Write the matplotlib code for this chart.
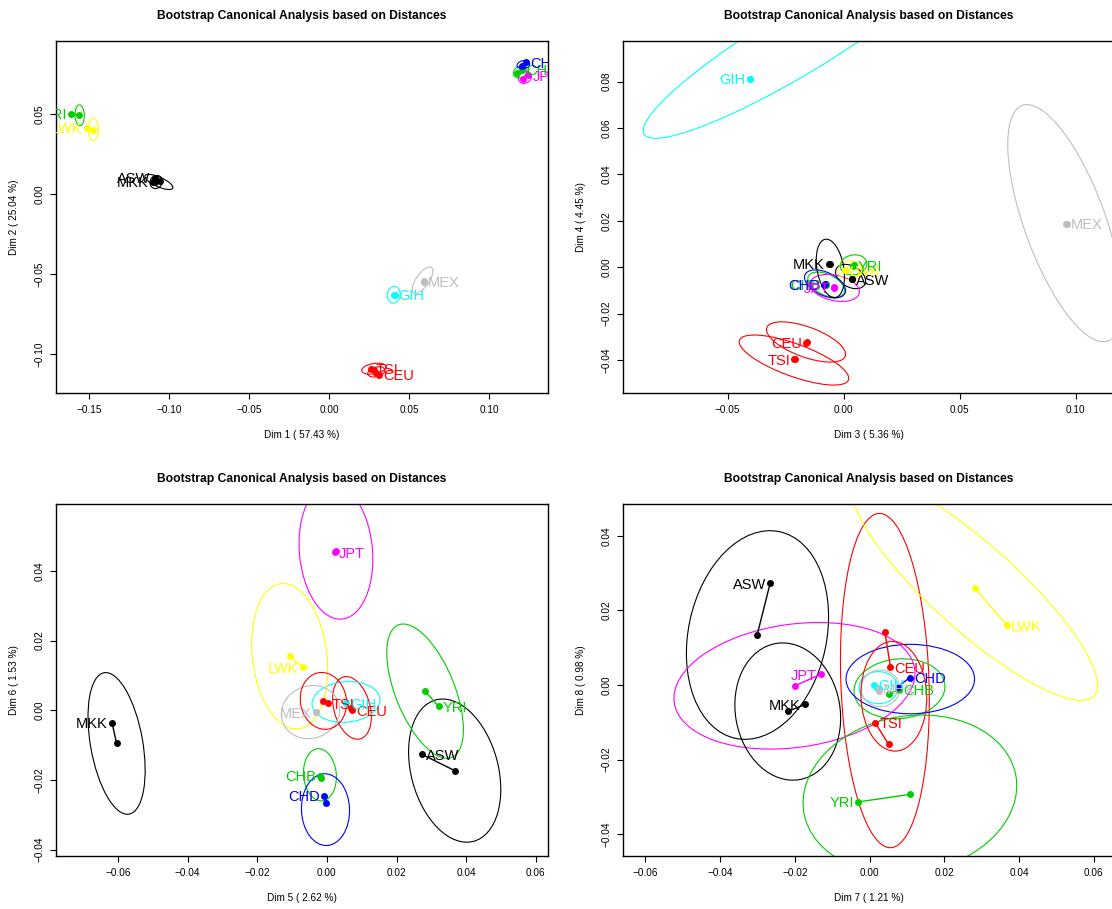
import matplotlib
matplotlib.use("Agg")
import matplotlib.pyplot as plt
from matplotlib.patches import Ellipse
from matplotlib.transforms import offset_copy

plt.rcParams["font.family"] = ["Liberation Sans", "DejaVu Sans"]

pops   = ["ASW", "CEU", "CHB", "CHD", "GIH", "JPT", "LWK", "MEX", "MKK", "TSI", "YRI"]
colors = ["black", "red", "#00CD00", "blue", "cyan", "magenta",
          "yellow", "#BEBEBE", "black", "red", "#00CD00"]

title = "Bootstrap Canonical Analysis based on Distances"

# ---- dim 1 / dim 2 -------------------------------------------------
d12_x  = [-0.1088, 0.0314, 0.1206, 0.1231, 0.0407, 0.1245, -0.1515, 0.0591, -0.1100, 0.0265, -0.1610]
d12_y  = [0.0102, -0.1129, 0.0777, 0.0824, -0.0629, 0.0745, 0.0415, -0.0546, 0.0077, -0.1090, 0.0504]
d12_bx = [-0.1056, 0.0296, 0.1177, 0.1204, 0.0410, 0.1214, -0.1473, 0.0592, -0.1088, 0.0281, -0.1560]
d12_by = [0.0083, -0.1115, 0.0756, 0.0804, -0.0630, 0.0719, 0.0404, -0.0545, 0.0077, -0.1098, 0.0494]
d12_ex = [-0.1063, 0.0296, 0.1195, 0.1215, 0.0405, 0.1225, -0.1473, 0.0585, -0.1080, 0.0281, -0.1558]
d12_ey = [0.0077, -0.1110, 0.0765, 0.0810, -0.0628, 0.0730, 0.0406, -0.0537, 0.0077, -0.1090, 0.0494]
d12_ea = [0.0190, 0.0110, 0.0090, 0.0080, 0.0105, 0.0085, 0.0140, 0.0195, 0.0085, 0.0155, 0.0130]
d12_eb = [0.0060, 0.0060, 0.0070, 0.0050, 0.0080, 0.0070, 0.0064, 0.0080, 0.0075, 0.0065, 0.0058]
d12_et = [-24, 15, 30, 10, 80, 30, 90, 55, 60, 10, 92]

# ---- dim 3 / dim 4 -------------------------------------------------
d34_x  = [0.0035, -0.0160, -0.0078, -0.0083, -0.0405, -0.0041, 0.0008, 0.0961, -0.0063, -0.0212, 0.0042]
d34_y  = [-0.0052, -0.0325, -0.0073, -0.0076, 0.0812, -0.0086, -0.0012, 0.0187, 0.0014, -0.0397, 0.0007]
d34_bx = [0.0036, -0.0158, -0.0075, -0.0080, -0.0403, -0.0040, 0.0010, 0.0960, -0.0060, -0.0210, 0.0043]
d34_by = [-0.0050, -0.0322, -0.0075, -0.0074, 0.0810, -0.0088, -0.0010, 0.0188, 0.0012, -0.0394, 0.0009]
d34_ex = [0.0030, -0.0162, -0.0075, -0.0080, -0.0200, -0.0038, 0.0028, 0.0955, -0.0057, -0.0214, 0.0043]
d34_ey = [-0.0040, -0.0322, -0.0075, -0.0072, 0.0970, -0.0089, -0.0014, 0.0190, -0.0005, -0.0400, 0.0010]
d34_ea = [0.0140, 0.0360, 0.0170, 0.0190, 0.1540, 0.0216, 0.0103, 0.1080, 0.0255, 0.0500, 0.0116]
d34_eb = [0.0090, 0.0130, 0.0090, 0.0100, 0.0280, 0.0110, 0.0082, 0.0350, 0.0115, 0.0140, 0.0086]
d34_et = [-30, -20, -25, -25, 31, -12, 0, 110, 100, -20, 10]

# ---- dim 5 / dim 6 -------------------------------------------------
d56_x  = [0.0272, 0.0073, -0.0020, -0.0007, 0.0054, 0.0023, -0.0069, -0.0031, -0.0617, 0.0003, 0.0321]
d56_y  = [-0.0126, 0.0000, -0.0188, -0.0245, 0.0021, 0.0454, 0.0124, -0.0006, -0.0036, 0.0021, 0.0011]
d56_bx = [0.0367, 0.0069, -0.0018, -0.0004, 0.0055, 0.0026, -0.0107, -0.0030, -0.0604, -0.0012, 0.0281]
d56_by = [-0.0173, 0.0006, -0.0195, -0.0265, 0.0022, 0.0456, 0.0156, -0.0005, -0.0095, 0.0028, 0.0056]
d56_ex = [0.0367, 0.0072, -0.0020, -0.0004, 0.0055, 0.0026, -0.0107, -0.0047, -0.0604, -0.0010, 0.0282]
d56_ey = [-0.0173, 0.0007, -0.0185, -0.0285, 0.0024, 0.0456, 0.0155, -0.0005, -0.0095, 0.0027, 0.0055]
d56_ea = [0.0420, 0.0184, 0.0150, 0.0206, 0.0196, 0.0390, 0.0420, 0.0170, 0.0412, 0.0164, 0.0410]
d56_eb = [0.0250, 0.0104, 0.0094, 0.0138, 0.0116, 0.0210, 0.0214, 0.0150, 0.0150, 0.0132, 0.0170]
d56_et = [105, 105, 95, 92, 5, 95, 97, 20, 100, 100, 112]

# ---- dim 7 / dim 8 -------------------------------------------------
d78_x  = [-0.0266, 0.0056, 0.0079, 0.0108, 0.0013, -0.0130, 0.0368, 0.0024, -0.0173, 0.0015, -0.0030]
d78_y  = [0.0273, 0.0048, -0.0013, 0.0020, 0.0001, 0.0029, 0.0160, -0.0009, -0.0052, -0.0101, -0.0313]
d78_bx = [-0.0301, 0.0041, 0.0051, 0.0076, 0.0020, -0.0200, 0.0282, 0.0026, -0.0217, 0.0051, 0.0108]
d78_by = [0.0134, 0.0142, -0.0023, -0.0004, -0.0008, -0.0002, 0.0259, -0.0016, -0.0070, -0.0159, -0.0293]
d78_ex = [-0.0300, 0.0041, 0.0080, 0.0109, 0.0024, -0.0201, 0.0282, 0.0029, -0.0219, 0.0065, 0.0108]
d78_ey = [0.0134, 0.0012, -0.0010, 0.0016, -0.0007, -0.0002, 0.0259, -0.0009, -0.0071, -0.0030, -0.0293]
d78_ea = [0.0566, 0.0896, 0.0244, 0.0344, 0.0104, 0.0650, 0.0860, 0.0104, 0.0370, 0.0294, 0.0576]
d78_eb = [0.0370, 0.0236, 0.0160, 0.0186, 0.0086, 0.0330, 0.0230, 0.0098, 0.0280, 0.0176, 0.0420]
d78_et = [78, 92, 5, 0, 0, 8, -42, 0, 100, 92, 10]

W, H = 1112, 909


def px_rect(left, top, right, bottom):
    return [left / W, 1 - bottom / H, (right - left) / W, (bottom - top) / H]


def fmt(v):
    return f"{v:.2f}".replace("-", "\u2212")


def panel(fig, rect, xs, ys, bxs, bys, exs, eys, eas, ebs, ets,
          xlim, ylim, xticks, yticks, xlab, ylab):
    ax = fig.add_axes(rect)
    for i, name in enumerate(pops):
        c = colors[i]
        ax.add_patch(Ellipse((exs[i], eys[i]), eas[i], ebs[i], angle=ets[i],
                             fill=False, edgecolor=c, lw=0.8))
        ax.plot([xs[i], bxs[i]], [ys[i], bys[i]], "-", color=c, lw=1.0)
        ax.plot([xs[i], bxs[i]], [ys[i], bys[i]], "o", color=c, ms=5, mew=0)
        # label left of negative points, right of positive ones
        left = xs[i] < 0
        tr = offset_copy(ax.transData, fig=fig, x=-3 if left else 3, y=0, units="points")
        ax.text(xs[i], ys[i], name, transform=tr, color=c, fontsize=10.5,
                ha="right" if left else "left", va="center_baseline", clip_on=True)

    ax.set_xlim(*xlim)
    ax.set_ylim(*ylim)
    ax.set_xticks(xticks)
    ax.set_yticks(yticks)
    ax.set_xticklabels([fmt(v) for v in xticks])
    ax.set_yticklabels([fmt(v) for v in yticks], rotation=90, va="center")
    ax.tick_params(direction="out", length=4, width=0.8, labelsize=7.2, pad=4.5)
    for s in ax.spines.values():
        s.set_linewidth(1.0)

    ax.set_xlabel(xlab, fontsize=7.2)
    ax.xaxis.set_label_coords(0.5, -0.119)
    ax.xaxis.label.set_va("center")
    ax.set_ylabel(ylab, fontsize=7.2)
    ax.yaxis.set_label_coords(-0.0854, 0.5)
    ax.yaxis.label.set_va("center")
    ax.text(0.5, 1.071, title, transform=ax.transAxes, ha="center", va="center",
            fontsize=8.7, fontweight="bold")
    return ax


fig = plt.figure(figsize=(W / 100, H / 100), dpi=100)

t5 = [-0.06, -0.04, -0.02, 0.0, 0.02, 0.04, 0.06]

panel(fig, px_rect(56, 41, 548, 393),
      d12_x, d12_y, d12_bx, d12_by, d12_ex, d12_ey, d12_ea, d12_eb, d12_et,
      (-0.1706, 0.1369), (-0.1242, 0.0958),
      [-0.15, -0.10, -0.05, 0.0, 0.05, 0.10], [-0.10, -0.05, 0.0, 0.05],
      "Dim 1 ( 57.43 %)", "Dim 2 ( 25.04 %)")

panel(fig, px_rect(623, 41, 1115, 393),
      d34_x, d34_y, d34_bx, d34_by, d34_ex, d34_ey, d34_ea, d34_eb, d34_et,
      (-0.0951, 0.1170), (-0.0542, 0.0975),
      [-0.05, 0.0, 0.05, 0.10], [-0.04, -0.02, 0.0, 0.02, 0.04, 0.06, 0.08],
      "Dim 3 ( 5.36 %)", "Dim 4 ( 4.45 %)")

panel(fig, px_rect(56, 504, 548, 856),
      d56_x, d56_y, d56_bx, d56_by, d56_ex, d56_ey, d56_ea, d56_eb, d56_et,
      (-0.0778, 0.0635), (-0.0418, 0.0592),
      t5, [-0.04, -0.02, 0.0, 0.02, 0.04],
      "Dim 5 ( 2.62 %)", "Dim 6 ( 1.53 %)")

panel(fig, px_rect(623, 504, 1115, 856),
      d78_x, d78_y, d78_bx, d78_by, d78_ex, d78_ey, d78_ea, d78_eb, d78_et,
      (-0.0660, 0.0657), (-0.0458, 0.0485),
      t5, [-0.04, -0.02, 0.0, 0.02, 0.04],
      "Dim 7 ( 1.21 %)", "Dim 8 ( 0.98 %)")

fig.savefig("out.png", dpi=100)
